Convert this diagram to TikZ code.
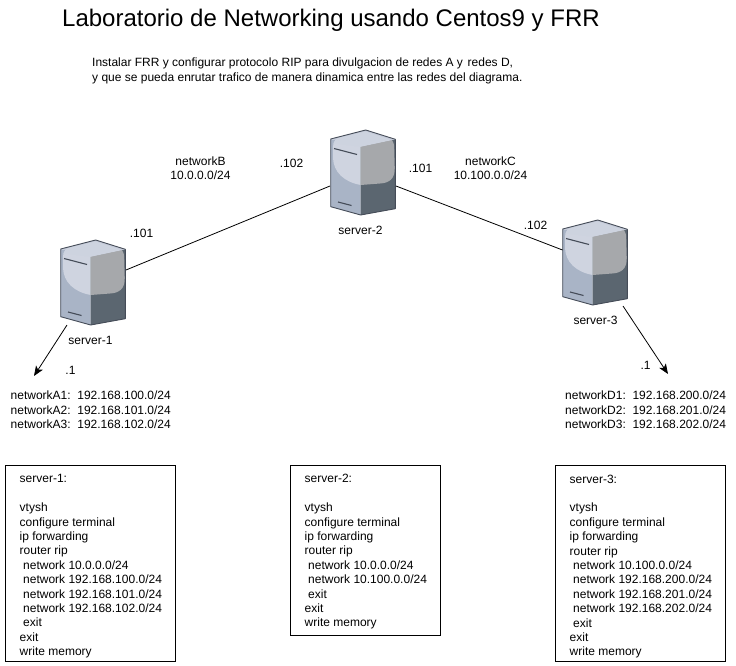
\documentclass[tikz,border=0pt]{standalone}
\usepackage{fontspec}
\setmainfont{Liberation Sans}
\usetikzlibrary{arrows.meta}
\definecolor{srvtop}{HTML}{C4CAD8}
\definecolor{srvleft}{HTML}{A9B4C6}
\definecolor{srvright}{HTML}{5B6670}
\definecolor{srvhl}{HTML}{CFD4E0}
\definecolor{srvhr}{HTML}{A6A8AB}
\definecolor{srvline}{HTML}{454C58}
\tikzset{
  x=1pt,y=-1pt,
  lbl/.style={font=\fontsize{12}{14.4}\selectfont,align=left,inner sep=0pt,anchor=west},
  clbl/.style={font=\fontsize{12}{14.4}\selectfont,align=center,inner sep=0pt},
  cfgbox/.style={draw=black,line width=0.9pt,anchor=north west,inner sep=0pt,outer sep=0pt},
  srvanchor/.style={minimum width=66pt,minimum height=86pt,inner sep=0pt,outer sep=0pt,anchor=north west},
  link/.style={line width=0.8pt,black},
  arr/.style={line width=0.8pt,black,-{Stealth[length=10pt,width=8pt,inset=2.5pt]}},
  serverpic/.pic={
    \fill[srvleft] (0.7,9) -- (30.7,16.7) -- (30.7,85) -- (0.7,76.7) -- cycle;
    \fill[srvright] (30.7,16.7) -- (65.3,9.3) -- (65.3,78.7) -- (30.7,85) -- cycle;
    \fill[srvtop] (0.7,9) -- (35.7,0) -- (65.3,9.3) -- (30.7,16.7) -- cycle;
    % rounded sheen over the upper part
    \fill[srvhl] (3,17) .. controls (3,11) and (6,8) .. (12,6.5) -- (30.7,16.7) -- (30.7,55) .. controls (14,52) and (3.5,42) .. (3,28) -- cycle;
    \fill[srvhr] (30.7,16.7) -- (62,10) .. controls (63.5,12) and (64,14) .. (64.2,18) -- (64.8,38) .. controls (65,49) and (59,53) .. (50,53.5) -- (30.7,55) -- cycle;
    \fill[srvhl!85!srvtop] (3.5,13.5) .. controls (5,9) and (9,7.5) .. (14,6.5) -- (35.7,1.5) -- (62,10) -- (30.7,16.7) -- cycle;
    \draw[srvline,line width=0.9pt,line join=round] (0.7,9) -- (35.7,0) -- (65.3,9.3) -- (65.3,78.7) -- (30.7,85) -- (0.7,76.7) -- cycle;
    \draw[srvline,line width=1.1pt] (4,18.5) -- (27,24.5);
    \draw[srvline,line width=1.1pt] (8,72) -- (21.5,75.5);
  }
}
\begin{document}
\begin{tikzpicture}
\useasboundingbox (0,0) rectangle (736,666);
\node[inner sep=0pt,anchor=west,font=\fontsize{24}{28}\selectfont] (title) at (62,20) {Laboratorio de Networking usando Centos9 y FRR};
\node[lbl] (intro) at (92,71) {Instalar FRR y configurar protocolo RIP para divulgacion de redes A y\hspace{4.7pt}redes D,\\y que se pueda enrutar trafico de manera dinamica entre las redes del diagrama.};

\pic at (60,240) {serverpic};
\pic at (330,130) {serverpic};
\pic at (562,220) {serverpic};
\node[srvanchor] (s1) at (60,240) {};
\node[srvanchor] (s2) at (330,130) {};
\node[srvanchor] (s3) at (562.5,220) {};

\node[clbl] (s1l) at (90.5,340) {server-1};
\node[clbl] (s2l) at (360.5,230) {server-2};
\node[clbl] (s3l) at (595.5,320) {server-3};

\draw[link] ([yshift=13pt]s1.east) -- ([yshift=-13pt]s2.west);
\draw[link] ([yshift=-13pt]s2.east) -- ([yshift=13pt]s3.west);

\coordinate (a1s) at (67,325);
\coordinate (a1e) at (34,376);
\coordinate (a3s) at (623,306);
\coordinate (a3e) at (668,374);
\draw[arr] (a1s) -- (a1e);
\draw[arr] (a3s) -- (a3e);

\node[clbl] (nb) at (200.5,168.5) {networkB\\10.0.0.0/24};
\node[clbl] (nc) at (490.5,168.5) {networkC\\10.100.0.0/24};
\node[clbl] (p1) at (291.5,163) {.102};
\node[clbl] (p2) at (420.5,168) {.101};
\node[clbl] (p3) at (141.5,233) {.101};
\node[clbl] (p4) at (535.5,225) {.102};
\node[clbl] (p5) at (70.5,370) {.1};
\node[clbl] (p6) at (645.5,365) {.1};

\node[lbl] (na) at (10.5,410) {networkA1:\ \ 192.168.100.0/24\\networkA2:\ \ 192.168.101.0/24\\networkA3:\ \ 192.168.102.0/24};
\node[lbl] (nd) at (565,410) {networkD1:\ \ 192.168.200.0/24\\networkD2:\ \ 192.168.201.0/24\\networkD3:\ \ 192.168.202.0/24};

\node[cfgbox,minimum width=169.5pt,minimum height=195.5pt] (b1) at (5.5,465.5) {};
\node[cfgbox,minimum width=149.5pt,minimum height=169.5pt] (b2) at (290.5,465.5) {};
\node[cfgbox,minimum width=169.5pt,minimum height=195.5pt] (b3) at (555.5,465.5) {};
\node[lbl] (t1) at (19.5,566.5) {server-1:\\[14.4pt]vtysh\\configure terminal\\ip forwarding\\router rip\\\hspace*{3.5pt}network 10.0.0.0/24\\\hspace*{3.5pt}network 192.168.100.0/24\\\hspace*{3.5pt}network 192.168.101.0/24\\\hspace*{3.5pt}network 192.168.102.0/24\\\hspace*{3.5pt}exit\\exit\\write memory};
\node[lbl] (t2) at (304.5,552) {server-2:\\[14.4pt]vtysh\\configure terminal\\ip forwarding\\router rip\\\hspace*{3.5pt}network 10.0.0.0/24\\\hspace*{3.5pt}network 10.100.0.0/24\\\hspace*{3.5pt}exit\\exit\\write memory};
\node[lbl] (t3) at (569.5,566.5) {server-3:\\[14.4pt]vtysh\\configure terminal\\ip forwarding\\router rip\\\hspace*{3.5pt}network 10.100.0.0/24\\\hspace*{3.5pt}network 192.168.200.0/24\\\hspace*{3.5pt}network 192.168.201.0/24\\\hspace*{3.5pt}network 192.168.202.0/24\\\hspace*{3.5pt}exit\\exit\\write memory};
\end{tikzpicture}
\end{document}
